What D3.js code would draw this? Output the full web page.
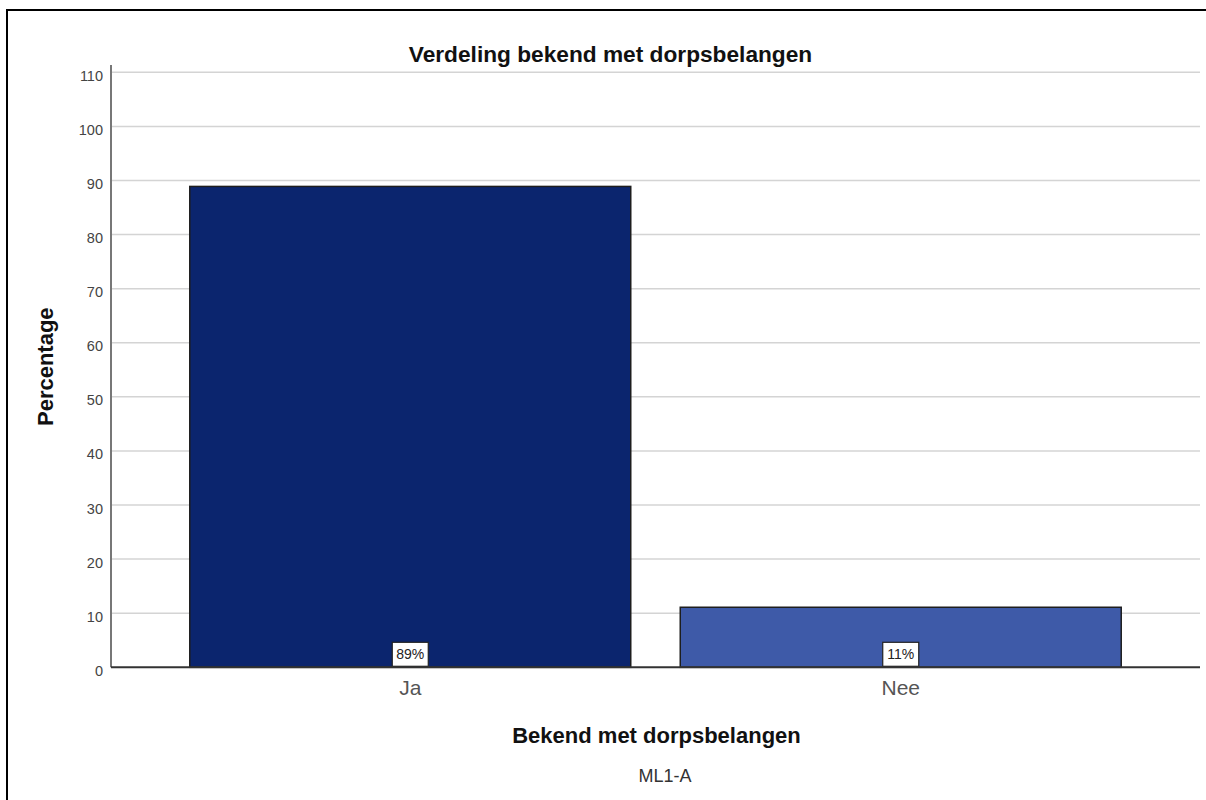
<!DOCTYPE html>
<html>
<head>
<meta charset="utf-8">
<script src="https://cdn.jsdelivr.net/npm/d3@7"></script>
<style>
  html, body { margin: 0; padding: 0; background: #fff; }
  svg { display: block; font-family: "Liberation Sans", Arial, sans-serif; }
</style>
</head>
<body>
<svg id="chart" width="1206" height="800"></svg>
<script>
// ---- data ----
const categories = ["Ja", "Nee"];
const values = [88.9, 11.1];
const valueLabels = ["89%", "11%"];
const barColors = ["#0b256e", "#3e5aa8"];
const yTicks = [0, 10, 20, 30, 40, 50, 60, 70, 80, 90, 100, 110];
const chartTitle = "Verdeling bekend met dorpsbelangen";
const xTitle = "Bekend met dorpsbelangen";
const yTitle = "Percentage";
const footnote = "ML1-A";

// ---- layout ----
const svg = d3.select("#chart");
const plot = { left: 111, right: 1200, top: 72.3, bottom: 667.3 };

// outer frame
svg.append("rect")
  .attr("x", 7).attr("y", 10)
  .attr("width", 1400).attr("height", 1000)
  .attr("fill", "none").attr("stroke", "#000").attr("stroke-width", 2);

const x = d3.scaleBand()
  .domain(categories)
  .range([plot.left, plot.right])
  .paddingInner(0.1009)
  .paddingOuter(0.1606);

const y = d3.scaleLinear()
  .domain([0, 110])
  .range([plot.bottom, plot.top]);

// gridlines
svg.append("g")
  .selectAll("line")
  .data(yTicks.filter(d => d > 0))
  .join("line")
  .attr("x1", plot.left).attr("x2", plot.right)
  .attr("y1", d => y(d)).attr("y2", d => y(d))
  .attr("stroke", "#d4d4d4").attr("stroke-width", 1.5);

// bars
svg.append("g")
  .selectAll("rect")
  .data(categories)
  .join("rect")
  .attr("x", d => x(d))
  .attr("y", (d, i) => y(values[i]))
  .attr("width", x.bandwidth())
  .attr("height", (d, i) => y(0) - y(values[i]))
  .attr("fill", (d, i) => barColors[i])
  .attr("stroke", "#1e1e1e")
  .attr("stroke-width", 1.5);

// value label boxes
const lbl = svg.append("g")
  .selectAll("g")
  .data(categories)
  .join("g")
  .attr("transform", d => `translate(${x(d) + x.bandwidth() / 2},${y(0)})`);
lbl.append("rect")
  .attr("x", -18).attr("y", -25)
  .attr("width", 36).attr("height", 24)
  .attr("fill", "#fff").attr("stroke", "#222").attr("stroke-width", 1.2);
lbl.append("text")
  .attr("x", 0).attr("y", -8)
  .attr("text-anchor", "middle")
  .attr("font-size", 14)
  .attr("fill", "#222")
  .text((d, i) => valueLabels[i]);

// y axis
const yAxis = d3.axisLeft(y).tickValues(yTicks).tickSize(0).tickPadding(8);
const gy = svg.append("g").attr("transform", `translate(${plot.left},0)`).call(yAxis);
gy.select(".domain").remove();
gy.selectAll("text")
  .attr("font-size", 14.5)
  .attr("font-family", "Liberation Sans, Arial, sans-serif")
  .attr("fill", "#444")
  .attr("dy", "0.55em");
svg.append("line")
  .attr("x1", plot.left).attr("x2", plot.left)
  .attr("y1", 65).attr("y2", plot.bottom)
  .attr("stroke", "#777").attr("stroke-width", 2);

// x axis
const xAxis = d3.axisBottom(x).tickSize(0).tickPadding(13);
const gx = svg.append("g").attr("transform", `translate(0,${plot.bottom})`).call(xAxis);
gx.select(".domain").remove();
gx.selectAll("text")
  .attr("font-size", 21)
  .attr("font-family", "Liberation Sans, Arial, sans-serif")
  .attr("fill", "#555");
svg.append("line")
  .attr("x1", plot.left).attr("x2", plot.right)
  .attr("y1", plot.bottom).attr("y2", plot.bottom)
  .attr("stroke", "#333").attr("stroke-width", 2);

// titles
svg.append("text")
  .attr("x", 610.5).attr("y", 61.7)
  .attr("text-anchor", "middle")
  .attr("font-size", 22.7).attr("font-weight", "bold").attr("fill", "#111")
  .text(chartTitle);

svg.append("text")
  .attr("x", 656.5).attr("y", 742.7)
  .attr("text-anchor", "middle")
  .attr("font-size", 22).attr("font-weight", "bold").attr("fill", "#111")
  .text(xTitle);

svg.append("text")
  .attr("transform", "translate(52.5,366.7) rotate(-90)")
  .attr("text-anchor", "middle")
  .attr("font-size", 22).attr("font-weight", "bold").attr("fill", "#111")
  .text(yTitle);

svg.append("text")
  .attr("x", 665).attr("y", 781.5)
  .attr("text-anchor", "middle")
  .attr("font-size", 18).attr("fill", "#333")
  .text(footnote);
</script>
</body>
</html>
